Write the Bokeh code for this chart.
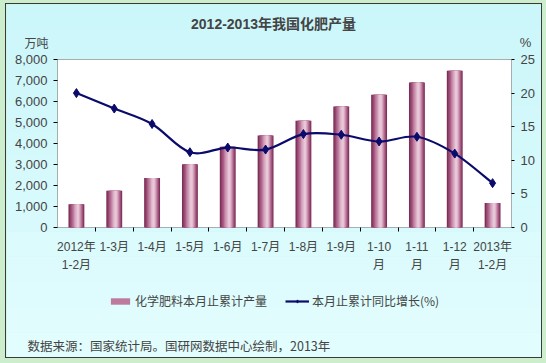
from bokeh.plotting import figure
from bokeh.models import (ColumnDataSource, Range1d, LinearAxis, FixedTicker,
                          NumeralTickFormatter, Legend, LegendItem, Label, BoxAnnotation)
from bokeh.transform import dodge
from bokeh.embed import file_html
from bokeh.resources import INLINE

# ---------------- data ----------------
categories = ["2012年\n1-2月", "1-3月", "1-4月", "1-5月", "1-6月", "1-7月",
              "1-8月", "1-9月", "1-10\n月", "1-11\n月", "1-12\n月", "2013年\n1-2月"]
output = [1110, 1750, 2360, 3010, 3850, 4380, 5080, 5760, 6320, 6900, 7470, 1170]
growth = [20.0, 17.7, 15.4, 11.2, 11.9, 11.6, 13.9, 13.8, 12.8, 13.5, 11.0, 6.6]
left_ticks = [0, 1000, 2000, 3000, 4000, 5000, 6000, 7000, 8000]
right_ticks = [0, 5, 10, 15, 20, 25]

title_text = "2012-2013年我国化肥产量"
left_unit = "万吨"
right_unit = "%"
bar_name = "化学肥料本月止累计产量"
line_name = "本月止累计同比增长(%)"
source_text = "数据来源：国家统计局。国研网数据中心绘制，2013年"

LATIN = "Liberation Sans, Noto Sans CJK SC"
CJK = "Noto Sans CJK SC"
BG = "#d0f7fa"
LINE_C = "#0b0b6b"

# ---------------- geometry (pixels inside the chart box) ----------------
W, H = 535, 353                 # outer chart box
PL, PR, PT, PB = 51, 505, 55, 223   # plot-area edges inside the box
ncat = len(categories)
xs = list(range(ncat))
ymax_l = left_ticks[-1]
ymax_r = right_ticks[-1]

px_per_cat = (PR - PL) / ncat
px_per_val = (PB - PT) / ymax_l
x_start = -0.5 - PL / px_per_cat
x_end = ncat - 0.5 + (W - PR) / px_per_cat
y_start = -(H - PB) / px_per_val
y_end = ymax_l + PT / px_per_val
k = ymax_r / ymax_l

p = figure(width=W, height=H, x_range=Range1d(x_start, x_end),
           y_range=Range1d(y_start, y_end), output_backend="svg",
           toolbar_location=None, min_border=0, background_fill_color=BG,
           border_fill_color=BG, outline_line_color=None)
p.margin = (4, 5, 6, 6)
p.styles = {"outline": "1px solid #3a3a3a"}
p.xgrid.visible = False
p.ygrid.visible = False
p.extra_y_ranges = {"pct": Range1d(y_start * k, y_end * k)}

# soft vertical background gradient (light cyan, paler towards the bottom)
top_rgb = (0xcb, 0xf6, 0xfa)
bot_rgb = (0xe2, 0xfd, 0xfd)
NB = 14
for i in range(NB):
    t = i / (NB - 1)
    rgb = tuple(round(b + (a - b) * t) for a, b in zip(top_rgb, bot_rgb))
    lo = y_start + (y_end - y_start) * i / NB
    hi = y_start + (y_end - y_start) * (i + 1) / NB
    p.add_layout(BoxAnnotation(bottom=lo, top=hi, fill_color="#%02x%02x%02x" % rgb,
                               fill_alpha=1, line_color=None, level="image"))

# white plot area with black border
p.add_layout(BoxAnnotation(left=-0.5, right=ncat - 0.5, bottom=0, top=ymax_l,
                           fill_color="white", fill_alpha=1, line_color="black",
                           line_width=1, level="underlay"))

# ---------------- axes ----------------
xa = p.xaxis[0]
xa.fixed_location = 0
xa.ticker = FixedTicker(ticks=xs, minor_ticks=[x + 0.5 for x in xs[:-1]])
xa.major_label_overrides = {i: c for i, c in enumerate(categories)}
xa.major_tick_out = 0
xa.major_tick_in = 0
xa.minor_tick_out = 4
xa.minor_tick_in = 0
xa.major_label_standoff = 8
xa.major_label_text_font = LATIN
xa.major_label_text_font_size = "12px"
xa.major_label_text_line_height = 1.3
xa.axis_line_color = None
xa.minor_tick_line_color = "black"

ya = p.yaxis[0]
ya.fixed_location = -0.5
ya.ticker = FixedTicker(ticks=left_ticks)
ya.formatter = NumeralTickFormatter(format="0,0")
ya.axis_line_color = None
ya.major_tick_out = 4
ya.major_tick_in = 0
ya.minor_tick_line_color = None
ya.major_label_standoff = 6
ya.major_label_text_font = LATIN
ya.major_label_text_font_size = "13px"

ra = LinearAxis(y_range_name="pct", ticker=FixedTicker(ticks=right_ticks))
ra.fixed_location = ncat - 0.5
ra.axis_line_color = None
ra.major_tick_out = 3
ra.major_tick_in = 0
ra.minor_tick_line_color = None
ra.major_label_standoff = 6
ra.major_label_text_font = LATIN
ra.major_label_text_font_size = "13px"
p.add_layout(ra, "right")

# ---------------- bars (nested stripes imitate the cylinder gradient) ----------------
src = ColumnDataSource(dict(x=xs, y=output))
stripe_colors = ["#7e2f58", "#94466f", "#a95d85", "#bd7a9d", "#cf98b4", "#ddb3c8", "#e8c8d8"]
stripe_widths = [0.42, 0.36, 0.30, 0.24, 0.18, 0.12, 0.06]
bar_rs = []
for i, (c, w) in enumerate(zip(stripe_colors, stripe_widths)):
    bar_rs.append(p.vbar(x=dodge("x", 0.006 * i), top="y", width=w, source=src,
                         fill_color=c, line_color=None))

# ---------------- smoothed growth line ----------------
n = len(growth)

def pt(i):
    i = min(max(i, 0), n - 1)
    return xs[i], growth[i]

bz = dict(x0=[], y0=[], x1=[], y1=[], cx0=[], cy0=[], cx1=[], cy1=[])
for i in range(n - 1):
    x0, y0 = pt(i)
    x1, y1 = pt(i + 1)
    xm, ym = pt(i - 1)
    xp, yp = pt(i + 2)
    bz["x0"].append(x0); bz["y0"].append(y0)
    bz["x1"].append(x1); bz["y1"].append(y1)
    bz["cx0"].append(x0 + (x1 - xm) / 6); bz["cy0"].append(y0 + (y1 - ym) / 6)
    bz["cx1"].append(x1 - (xp - x0) / 6); bz["cy1"].append(y1 - (yp - y0) / 6)
line_r = p.bezier(x0="x0", y0="y0", x1="x1", y1="y1", cx0="cx0", cy0="cy0",
                  cx1="cx1", cy1="cy1", source=ColumnDataSource(bz),
                  line_color=LINE_C, line_width=2.2, y_range_name="pct")
mk_r = p.scatter(x=xs, y=growth, marker="diamond", size=9, fill_color=LINE_C,
                 line_color=LINE_C, y_range_name="pct")

# ---------------- legend ----------------
legend = Legend(items=[LegendItem(label=bar_name, renderers=[bar_rs[3]]),
                       LegendItem(label=line_name, renderers=[line_r, mk_r])],
                orientation="horizontal", location=(98, 44),
                background_fill_alpha=0, border_line_alpha=0,
                label_text_font=CJK, label_text_font_size="12px",
                glyph_width=24, glyph_height=8, spacing=18, label_standoff=3,
                padding=4, margin=0)
p.add_layout(legend)

# ---------------- texts ----------------
p.add_layout(Label(x=(ncat - 1) / 2, y=ymax_l, x_offset=-11, y_offset=36, text=title_text,
                   text_font=LATIN, text_font_size="14px", text_font_style="bold",
                   text_align="center", text_baseline="middle"))
p.add_layout(Label(x=-0.5, y=ymax_l, x_offset=-21, y_offset=17, text=left_unit,
                   text_font=CJK, text_font_size="12px",
                   text_align="center", text_baseline="middle"))
p.add_layout(Label(x=ncat - 0.5, y=ymax_l, x_offset=14, y_offset=17, text=right_unit,
                   text_font=LATIN, text_font_size="13px",
                   text_align="center", text_baseline="middle"))
p.add_layout(Label(x=-0.5, y=0, x_offset=-30, y_offset=-118, text=source_text,
                   text_font=CJK, text_font_size="12.5px",
                   text_align="left", text_baseline="middle"))

html = file_html(p, INLINE)
html = html.replace("</head>", "<style>html, body { background-color: #cdeecd; }</style></head>", 1)
open("out.html", "w").write(html)
